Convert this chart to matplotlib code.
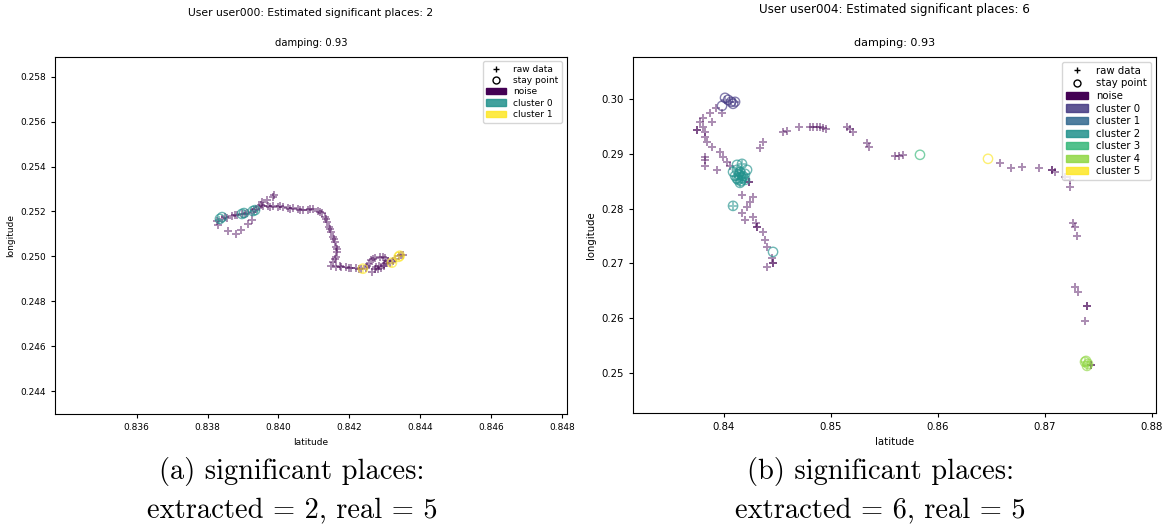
import matplotlib
matplotlib.use('Agg')
import matplotlib.pyplot as plt
import matplotlib.patches as mpatches
from matplotlib.lines import Line2D
from matplotlib.ticker import FormatStrFormatter

# ---- user000 (left panel) ----
u0_noise_lat = [0.83827, 0.83841, 0.83855, 0.83869, 0.83883, 0.83897, 0.83911, 0.83925, 0.83936, 0.83945,
                0.83956, 0.83970, 0.83984, 0.83998, 0.84013, 0.84027, 0.84041, 0.84055, 0.84069, 0.84083,
                0.84097, 0.84111, 0.84122, 0.84131, 0.84137, 0.84142, 0.84148, 0.84153, 0.84159, 0.84162,
                0.84165, 0.84162, 0.84153, 0.84148, 0.84162, 0.84176, 0.84190, 0.84204, 0.84218, 0.84232,
                0.84246, 0.84255, 0.84260, 0.84272, 0.84286, 0.84300, 0.84308, 0.84297, 0.84283, 0.84272,
                0.84263, 0.84280, 0.84297, 0.84314, 0.84328, 0.84339, 0.84351,
                0.83849, 0.83877, 0.83905, 0.83931, 0.83951, 0.83976, 0.84004, 0.84032, 0.84060, 0.84089,
                0.84117, 0.84134, 0.84145, 0.84156, 0.84165, 0.84159, 0.84173, 0.84198, 0.84227, 0.84249,
                0.84266, 0.84294, 0.84303, 0.84275, 0.84289, 0.84322, 0.84345,
                0.83829, 0.83858, 0.83880, 0.83894, 0.83914, 0.83925, 0.83953, 0.83967, 0.83984, 0.83987]
u0_noise_lon = [0.25158, 0.25167, 0.25171, 0.25180, 0.25184, 0.25189, 0.25193, 0.25198, 0.25211, 0.25220,
                0.25224, 0.25224, 0.25224, 0.25220, 0.25220, 0.25215, 0.25215, 0.25211, 0.25206, 0.25206,
                0.25211, 0.25202, 0.25193, 0.25175, 0.25153, 0.25131, 0.25109, 0.25087, 0.25065, 0.25043,
                0.25020, 0.24998, 0.24976, 0.24958, 0.24954, 0.24954, 0.24954, 0.24950, 0.24950, 0.24945,
                0.24950, 0.24967, 0.24985, 0.24994, 0.24998, 0.24994, 0.24980, 0.24967, 0.24958, 0.24945,
                0.24932, 0.24942, 0.24958, 0.24972, 0.24989, 0.25003, 0.25007,
                0.25175, 0.25184, 0.25189, 0.25206, 0.25229, 0.25220, 0.25224, 0.25211, 0.25206, 0.25211,
                0.25198, 0.25167, 0.25122, 0.25078, 0.25034, 0.24989, 0.24958, 0.24950, 0.24945, 0.24958,
                0.24989, 0.24998, 0.24972, 0.24954, 0.24950, 0.24980, 0.25007,
                0.25140, 0.25113, 0.25100, 0.25118, 0.25144, 0.25162, 0.25242, 0.25251, 0.25264, 0.25273]

u0_raw_lat = {0: [0.83832, 0.83900, 0.83931], 1: [0.84238, 0.84320, 0.84339]}
u0_raw_lon = {0: [0.25162, 0.25189, 0.25202], 1: [0.24945, 0.24972, 0.25003]}
u0_stay_lat = {0: [0.83835, 0.83841, 0.83897, 0.83903, 0.83928, 0.83934],
               1: [0.84238, 0.84320, 0.84339, 0.84342]}
u0_stay_lon = {0: [0.25167, 0.25175, 0.25189, 0.25193, 0.25202, 0.25206],
               1: [0.24945, 0.24972, 0.24998, 0.25003]}

# ---- user004 (right panel) ----
u4_noise_lat = [0.83926, 0.83870, 0.83805, 0.83777, 0.83805, 0.83748, 0.83748, 0.83823, 0.83823, 0.83842,
                0.83889, 0.83963, 0.83992, 0.84029, 0.84057, 0.83823, 0.83823, 0.83823, 0.83935, 0.83889,
                0.83982, 0.84235, 0.84235, 0.84169, 0.84272, 0.84244, 0.84216, 0.84169, 0.84197, 0.84272,
                0.84300, 0.84309, 0.84309, 0.84366, 0.84384, 0.84403, 0.84450, 0.84459, 0.84459, 0.84403,
                0.84366, 0.84337, 0.84553, 0.84590, 0.84702, 0.84805, 0.84833, 0.84870, 0.84899, 0.84927,
                0.84955, 0.85151, 0.85179, 0.85207, 0.85338, 0.85357, 0.85600, 0.85637, 0.85675, 0.86581,
                0.86684, 0.86787, 0.86946, 0.87068, 0.87068, 0.87096, 0.87189, 0.87236, 0.87236, 0.87264,
                0.87283, 0.87301, 0.87283, 0.87311, 0.87395, 0.87395, 0.87376, 0.87432, 0.87432]
u4_noise_lon = [0.29839, 0.29747, 0.29656, 0.29583, 0.29492, 0.29437, 0.29437, 0.29401, 0.29309, 0.29218,
                0.29127, 0.29035, 0.28944, 0.28853, 0.28780, 0.28944, 0.28889, 0.28780, 0.28707, 0.29583,
                0.29747, 0.28488, 0.28488, 0.28250, 0.28214, 0.28122, 0.28031, 0.27921, 0.27794, 0.27848,
                0.27739, 0.27666, 0.27666, 0.27574, 0.27428, 0.27301, 0.27100, 0.27008, 0.27008, 0.26935,
                0.29218, 0.29108, 0.29401, 0.29419, 0.29492, 0.29492, 0.29492, 0.29492, 0.29492, 0.29474,
                0.29455, 0.29492, 0.29455, 0.29401, 0.29200, 0.29127, 0.28962, 0.28962, 0.28981, 0.28834,
                0.28743, 0.28761, 0.28743, 0.28707, 0.28707, 0.28670, 0.28579, 0.28524, 0.28396, 0.27739,
                0.27666, 0.27501, 0.26570, 0.26479, 0.26223, 0.26223, 0.25949, 0.25146, 0.25146]

u4_raw_lat = {0: [0.84010, 0.84057, 0.84104],
              2: [0.84169, 0.84122, 0.84150, 0.84197, 0.84104, 0.84169, 0.84132, 0.84197, 0.84150, 0.84085,
                  0.84140, 0.84160, 0.84180],
              4: [0.87376, 0.87404, 0.87395]}
u4_raw_lon = {0: [0.29985, 0.29948, 0.29948],
              2: [0.28816, 0.28707, 0.28670, 0.28634, 0.28597, 0.28561, 0.28524, 0.28524, 0.28469, 0.28049,
                  0.28600, 0.28650, 0.28580],
              4: [0.25201, 0.25164, 0.25128]}
u4_stay_lat = {0: [0.83982, 0.84010, 0.84038, 0.84066, 0.84104, 0.84085],
               2: [0.84169, 0.84122, 0.84150, 0.84197, 0.84104, 0.84169, 0.84132, 0.84197, 0.84150, 0.84085,
                   0.84216, 0.84122, 0.84085, 0.84459, 0.84140, 0.84180, 0.84120, 0.84160],
               3: [0.85833],
               4: [0.87376, 0.87404, 0.87395, 0.87386],
               5: [0.86469]}
u4_stay_lon = {0: [0.29875, 0.30021, 0.29985, 0.29948, 0.29948, 0.29912],
               2: [0.28816, 0.28707, 0.28670, 0.28634, 0.28597, 0.28561, 0.28524, 0.28524, 0.28469, 0.28670,
                   0.28707, 0.28798, 0.28049, 0.27209, 0.28620, 0.28590, 0.28550, 0.28500],
               3: [0.28981],
               4: [0.25201, 0.25164, 0.25128, 0.25219],
               5: [0.28908]}


def draw_panel(ax, n_clusters, noise_lat, noise_lon, raw_lat, raw_lon, stay_lat, stay_lon,
               fs=6.5, title_fs=7.5, plus_size=28):
    """Scatter the raw points and stay points, coloured by cluster"""
    cmap = plt.get_cmap('viridis')
    colors = [cmap(i / n_clusters) for i in range(n_clusters + 1)]  # index 0 = noise

    ax.scatter(noise_lat, noise_lon, marker='+', s=plus_size, color=colors[0], alpha=0.45, linewidths=1.4)
    for k in raw_lat:
        ax.scatter(raw_lat[k], raw_lon[k], marker='+', s=plus_size, color=colors[k + 1], alpha=0.5,
                   linewidths=1.4)
    for k in stay_lat:
        ax.scatter(stay_lat[k], stay_lon[k], marker='o', s=45, facecolors='none',
                   edgecolors=[colors[k + 1]], alpha=0.65, linewidths=1.0)

    handles = [Line2D([], [], marker='+', color='black', linestyle='None', markersize=5, label='raw data'),
               Line2D([], [], marker='o', markerfacecolor='none', markeredgecolor='black',
                      linestyle='None', markersize=5, label='stay point'),
               mpatches.Patch(color=colors[0], label='noise')]
    for k in range(n_clusters):
        handles.append(mpatches.Patch(color=colors[k + 1], alpha=0.85, label=f'cluster {k}'))
    ax.legend(handles=handles, loc='upper right', fontsize=fs, handlelength=2.2,
              labelspacing=0.25, borderpad=0.4)

    ax.set_xlabel('latitude', fontsize=fs)
    ax.set_ylabel('longitude', fontsize=fs)
    ax.tick_params(labelsize=fs, length=3)
    ax.set_title('damping: 0.93', fontsize=title_fs, pad=8)


fig = plt.figure(figsize=(11.71, 5.26), dpi=100)

ax1 = fig.add_axes([0.047, 0.213, 0.437, 0.679])
draw_panel(ax1, 2, u0_noise_lat, u0_noise_lon, u0_raw_lat, u0_raw_lon, u0_stay_lat, u0_stay_lon,
           fs=6.5, title_fs=7.2, plus_size=36)
ax1.set_xlim(0.8337, 0.84813)
ax1.set_ylim(0.24298, 0.25889)
ax1.set_xticks([0.836, 0.838, 0.840, 0.842, 0.844, 0.846, 0.848])
ax1.set_yticks([0.244, 0.246, 0.248, 0.250, 0.252, 0.254, 0.256, 0.258])
ax1.xaxis.set_major_formatter(FormatStrFormatter('%.3f'))
ax1.yaxis.set_major_formatter(FormatStrFormatter('%.3f'))

ax2 = fig.add_axes([0.5406, 0.215, 0.4466, 0.677])
draw_panel(ax2, 6, u4_noise_lat, u4_noise_lon, u4_raw_lat, u4_raw_lon, u4_stay_lat, u4_stay_lon,
           fs=7.3, title_fs=8.0, plus_size=32)
ax2.set_xlim(0.8315, 0.8804)
ax2.set_ylim(0.2427, 0.3077)
ax2.set_xticks([0.84, 0.85, 0.86, 0.87, 0.88])
ax2.set_yticks([0.25, 0.26, 0.27, 0.28, 0.29, 0.30])
ax2.xaxis.set_major_formatter(FormatStrFormatter('%.2f'))
ax2.yaxis.set_major_formatter(FormatStrFormatter('%.2f'))

fig.text(0.2656, 0.975, 'User user000: Estimated significant places: 2', ha='center', va='center', fontsize=7.75)
fig.text(0.7634, 0.981, 'User user004: Estimated significant places: 6', ha='center', va='center', fontsize=8.6)

# sub-figure captions
cap = dict(ha='center', va='center', fontsize=20.5, family='cmr10')
fig.text(0.2494, 0.103, '(a) significant places:', **cap)
fig.text(0.2494, 0.031, 'extracted = 2, real = 5', **cap)
fig.text(0.7515, 0.103, '(b) significant places:', **cap)
fig.text(0.7515, 0.031, 'extracted = 6, real = 5', **cap)

plt.savefig('out.png', dpi=100)
